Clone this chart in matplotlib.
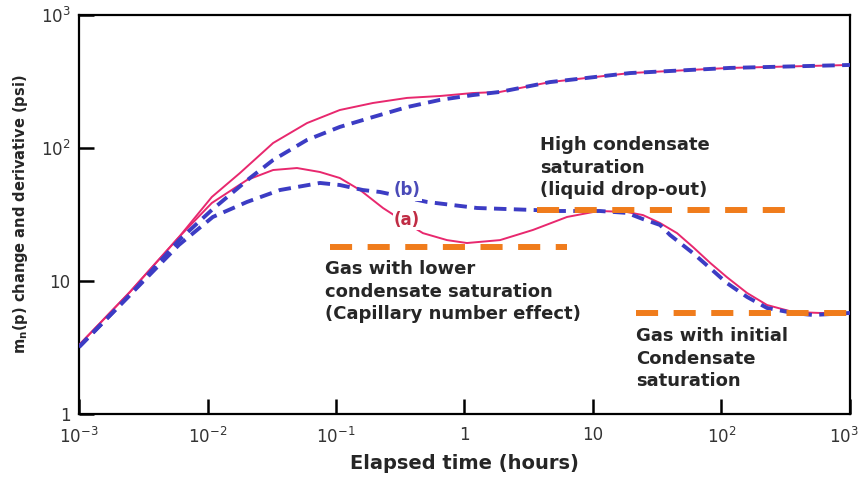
import matplotlib

matplotlib.use("Agg")
import matplotlib.pyplot as plt
import matplotlib.transforms as mtransforms

# ── values (hours, psi) ───────────────────────────────────────────────────

# (a) pressure change, solid pink
t_dp_a = [1.0e-3, 2.49e-3, 6.0e-3, 1.08e-2, 0.0179, 0.0324, 0.0595, 0.107,
          0.194, 0.357, 0.645, 1.16, 1.89, 4.62, 19.4, 116, 1000]
dp_a = [3.30, 8.27, 21.4, 42.8, 64.9, 109, 154, 193, 218, 238, 246, 259,
        264, 313, 366, 400, 421]

# (b) pressure change, dashed blue
t_dp_b = [1.0e-3, 2.49e-3, 6.0e-3, 1.08e-2, 0.0214, 0.0324, 0.0595, 0.107,
          0.194, 0.357, 0.645, 1.16, 1.89, 4.62, 19.4, 116, 1000]
dp_b = [3.19, 7.85, 20.3, 34.2, 59.5, 81.2, 115, 144, 171, 203, 230, 250,
        264, 313, 366, 400, 421]

# (a) derivative, solid pink
t_der_a = [1.0e-3, 2.49e-3, 6.0e-3, 1.08e-2, 0.0203, 0.0324, 0.0497, 0.0750,
           0.107, 0.154, 0.232, 0.332, 0.475, 0.731, 1.045, 1.89, 3.41, 6.28,
           10.0, 11.3, 18.4, 24.5, 33.2, 45.1, 60.0, 81.5, 110, 158, 226, 360,
           584, 1000]
der_a = [3.30, 8.27, 21.4, 38.6, 57.5, 68.3, 70.7, 66.0, 59.5, 48.3, 35.4,
         28.3, 22.9, 20.3, 19.3, 20.3, 24.2, 30.3, 33.0, 33.6, 33.0, 31.3,
         27.3, 22.9, 18.0, 13.7, 10.7, 8.13, 6.60, 5.85, 5.75, 5.75]

# (b) derivative, dashed blue
t_der_b = [1.0e-3, 2.49e-3, 6.0e-3, 1.10e-2, 0.0203, 0.0366, 0.0750, 0.107,
           0.162, 0.220, 0.511, 1.25, 3.41, 5.53, 11.3, 18.4, 24.5, 33.2, 39.7,
           60.0, 81.5, 110, 158, 226, 360, 515, 1000]
der_b = [3.19, 7.85, 18.7, 30.3, 39.3, 48.3, 54.6, 52.7, 48.3, 46.7, 39.3,
         35.4, 34.2, 33.6, 33.6, 32.5, 29.2, 26.4, 22.2, 16.2, 12.5, 9.66,
         7.59, 6.27, 5.75, 5.55, 5.75]

# stabilisation levels (orange dashes)
lvl_low_t = [0.0897, 6.28]
lvl_low = 18.0
lvl_high_t = [3.66, 330]
lvl_high = 34.2
lvl_init_t = [21.6, 1000]
lvl_init = 5.75

xticks = [1e-3, 1e-2, 1e-1, 1, 10, 1e2, 1e3]
xlabels = [r"$10^{-3}$", r"$10^{-2}$", r"$10^{-1}$", "1", "10", r"$10^{2}$", r"$10^{3}$"]
yticks = [1, 10, 1e2, 1e3]
ylabels = ["1", "10", r"$10^{2}$", r"$10^{3}$"]

PINK = "#e8286e"
BLUE = "#3c3cc4"
ORANGE = "#f07c1c"
TXT = "#262626"

plt.rcParams["font.family"] = ["DejaVu Sans"]
plt.rcParams["mathtext.fontset"] = "dejavusans"

fig = plt.figure(figsize=(8.62, 4.79), dpi=100)
ax = fig.add_axes([79 / 862, 65 / 479, 771 / 862, 399 / 479])
ax.set_xscale("log")
ax.set_yscale("log")
ax.set_xlim(1e-3, 1e3)
ax.set_ylim(1, 1e3)

ax.plot(t_dp_a, dp_a, color=PINK, lw=1.4, zorder=3)
ax.plot(t_der_a, der_a, color=PINK, lw=1.4, zorder=3)
ax.plot(t_dp_b, dp_b, color=BLUE, lw=2.8, dashes=(3.2, 1.9), zorder=4)
ax.plot(t_der_b, der_b, color=BLUE, lw=2.8, dashes=(3.2, 1.9), zorder=4)

for tt, lv in [(lvl_low_t, lvl_low), (lvl_high_t, lvl_high), (lvl_init_t, lvl_init)]:
    ax.plot(tt, [lv, lv], color=ORANGE, lw=4.3, dashes=(3.7, 2.6),
            solid_capstyle="butt", zorder=5)

ax.text(0.357, 48.0, "(b)", color="#4a4ab8", fontsize=12, fontweight="bold",
        ha="center", va="center", zorder=6,
        bbox=dict(facecolor="white", edgecolor="none", pad=1))
ax.text(0.357, 28.8, "(a)", color="#c02c44", fontsize=12, fontweight="bold",
        ha="center", va="center", zorder=6,
        bbox=dict(facecolor="white", edgecolor="none", pad=1))

note = dict(color=TXT, fontsize=13, fontweight="bold", ha="left", va="top",
            linespacing=1.33, zorder=6)
ax.text(3.87, 123, "High condensate\nsaturation\n(liquid drop-out)", **note)
ax.text(0.082, 14.4, "Gas with lower\ncondensate saturation\n(Capillary number effect)", **note)
ax.text(21.6, 4.51, "Gas with initial\nCondensate\nsaturation", **note)

ax.set_xticks(xticks)
ax.set_xticklabels(xlabels)
ax.set_yticks(yticks)
ax.set_yticklabels(ylabels)
ax.minorticks_off()
ax.tick_params(direction="in", length=11, width=1.8, labelsize=12,
               labelcolor="#333333", top=False, right=False)
ax.tick_params(axis="x", pad=9)
ax.tick_params(axis="y", pad=6)
for sp in ax.spines.values():
    sp.set_linewidth(1.6)

# last x label sits at the very edge of the figure, nudge it in a little
last = ax.get_xticklabels()[-1]
last.set_transform(last.get_transform()
                   + mtransforms.ScaledTranslation(-6 / 100, 0, fig.dpi_scale_trans))

ax.set_xlabel("Elapsed time (hours)", fontsize=14, fontweight="bold", color=TXT,
              labelpad=5)
ax.set_ylabel(r"m$_\mathregular{n}$(p) change and derivative (psi)", fontsize=10.5,
              fontweight="bold", color=TXT, labelpad=8)

fig.savefig("out.png", dpi=100)
